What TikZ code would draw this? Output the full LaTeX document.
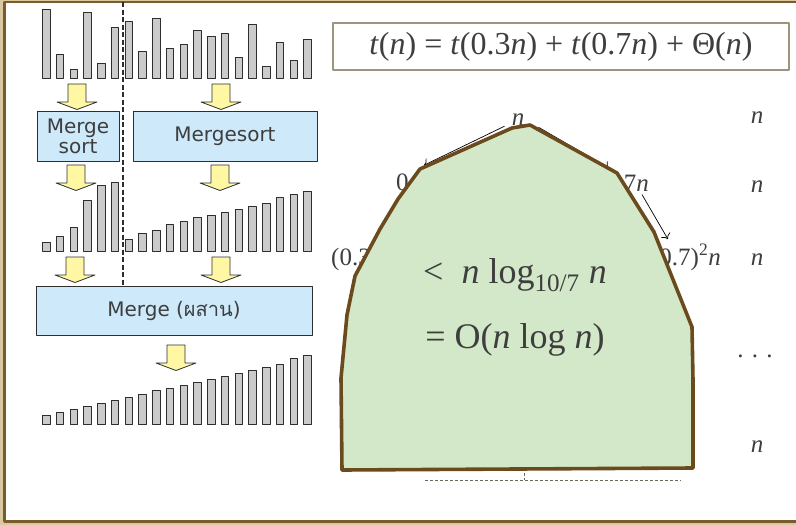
\documentclass[tikz,border=0pt]{standalone}
\usepackage{fontspec}
\setmainfont{Liberation Serif}
\newfontfamily\boxfont{DejaVu Sans}
\newfontfamily\thaifont[Script=Thai]{Loma}
\usetikzlibrary{arrows.meta,calc}
\definecolor{framebrown}{HTML}{7B5B2B}
\definecolor{frametan}{HTML}{D8C9A0}
\definecolor{treegreen}{HTML}{D3E8C9}
\definecolor{treebrown}{HTML}{6B4A1E}
\definecolor{boxblue}{HTML}{CDE9FA}
\definecolor{arrowyellow}{HTML}{FFF7A3}
\definecolor{bargray}{HTML}{CBCBCB}
\definecolor{barline}{HTML}{2E2E2E}
\definecolor{ink}{HTML}{3E3E3E}
\definecolor{rulegray}{HTML}{9C9580}

\begin{document}
\begin{tikzpicture}[x=1pt, y=-1pt, line join=round,
  bar/.style={fill=bargray, draw=barline, line width=1pt},
  sortbox/.style={draw=barline, fill=boxblue, line width=1pt, align=center,
    font=\boxfont\fontsize{20}{20}\selectfont, text=ink},
  lbl/.style={font=\fontsize{25}{28}\selectfont, text=ink, inner sep=0pt},
  big/.style={font=\fontsize{36}{39}\selectfont, text=ink, inner sep=0pt},
  yarrow/.pic={\draw[fill=arrowyellow, draw=barline, line width=0.8pt]
    (-9,0) -- (9,0) -- (9,18) -- (20,18) -- (0,25.5) -- (-20,18) -- (-9,18) -- cycle;}]
  \useasboundingbox (0,0) rectangle (796,525);
  % slide frame
  \fill[frametan] (0,0) rectangle (796,525);
  \fill[white] (4.5,2) rectangle (796,521.5);
  \draw[framebrown, line width=2.8pt] (796,2) -- (4.5,2) -- (4.5,521.5) -- (796,521.5);
  % bars: unsorted, half sorted, merged
  \foreach \h [count=\i from 0] in {69,24,9,66,15,51,57,27,60,30,34,48,42,45,21,54,12,36,18,39}
    {\draw[bar] ({42.7+13.75*\i},78) rectangle ++(7.3,-\h);}
  \foreach \h [count=\i from 0] in {9,15,24,51,66,69,12,18,21,27,30,34,36,39,42,45,48,54,57,60}
    {\draw[bar] ({42.7+13.75*\i},251.5) rectangle ++(7.3,-\h);}
  \foreach \h [count=\i from 0] in {9,12,15,18,21,24,27,30,34,36,39,42,45,48,51,54,57,60,66,69}
    {\draw[bar] ({42.7+13.75*\i},424) rectangle ++(7.3,-\h);}
  \draw[barline, line width=1.8pt, dash pattern=on 5pt off 2.5pt] (123,2) -- (123,286);
  % sorting steps
  \node[sortbox, minimum width=82, minimum height=50] (msl) at (78,136) {Merge\\sort};
  \node[sortbox, minimum width=184, minimum height=50] (msr) at (225,136) {Mergesort};
  \node[sortbox, minimum width=276, minimum height=49] (mrg) at (174,310.5) {Merge ({\thaifont ผสาน})};
  \foreach \p in {(77,84),(221,84),(76,165),(220,165),(75,257),(221,257),(176,345)}
    {\pic at \p {yarrow};}
  % recurrence
  \node[draw=rulegray, line width=1.1pt, minimum width=456, minimum height=47,
    font=\fontsize{32}{35}\selectfont, text=ink] (rec) at (561,46.5)
    {\textit{t}(\textit{n}) = \textit{t}(0.3\textit{n}) + \textit{t}(0.7\textit{n}) + Θ(\textit{n})};
  % recursion tree (mostly covered)
  \node[lbl, anchor=base] (tn) at (518,125) {\textit{n}};
  \node[lbl, anchor=base west] (tl1) at (396,190) {0.3\textit{n}};
  \node[lbl, anchor=base east] (tr1) at (649,191) {0.7\textit{n}};
  \node[lbl, anchor=base west] (tl2) at (331,265) {(0.3)\textsuperscript{2}\textit{n}};
  \node[lbl, anchor=base east] (tr2) at (721,265) {(0.7)\textsuperscript{2}\textit{n}};
  \draw[-{To[length=5pt]}, line width=0.7pt] ($(tn.south west)+(-7,1)$) -- ($(tl1.north)+(6,-8)$);
  \draw[-{To[length=5pt]}, line width=0.7pt] ($(tn.south east)+(14,2)$) -- ($(tr1.north)+(-18,-6)$);
  \draw[-{To[length=5pt]}, line width=0.7pt] ($(tr1.south east)+(-7,3)$) -- ($(tr2.north west)+(17,-5)$);
  \draw[rulegray!70!black, line width=0.7pt, dash pattern=on 3pt off 2pt]
    (425,480) -- (681,480) (524,468) -- (524,480);
  \filldraw[fill=treegreen, draw=treebrown, line width=3.6pt]
    (342,470) -- (341,378) -- (347,315) -- (355,276) -- (380,229) -- (398,199) -- (420,169)
    -- (512,128) -- (530,125) -- (617,173) -- (654,232) -- (674,282) -- (692,327)
    -- (693,380) -- (693,468) -- cycle;
  \node[big, anchor=base] (sum) at (515,283) {<\ \ \textit{n} log\textsubscript{10/7} \textit{n}};
  \node[big, anchor=base] (bigo) at (515,348) {= O(\textit{n} log \textit{n})};
  % level costs
  \node[lbl, anchor=base] (c1) at (757,123) {\textit{n}};
  \node[lbl, anchor=base] (c2) at (757,192) {\textit{n}};
  \node[lbl, anchor=base] (c3) at (757,265) {\textit{n}};
  \node[lbl, anchor=base] (c4) at (755,357) {. . .};
  \node[lbl, anchor=base] (c5) at (757,452) {\textit{n}};
\end{tikzpicture}
\end{document}
